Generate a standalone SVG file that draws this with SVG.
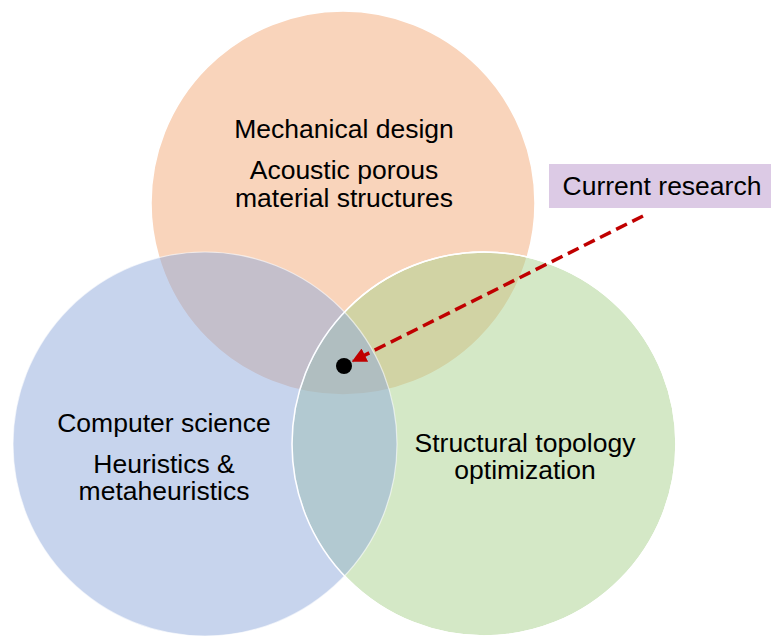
<svg xmlns="http://www.w3.org/2000/svg" width="771" height="637" viewBox="0 0 771 637">
<style>
.c{stroke:#ffffff;stroke-width:1.5}
.edge{fill:none;stroke:#ffffff;stroke-width:1.5}
.t{font-family:"Liberation Sans",Arial,sans-serif;font-size:26.5px;fill:#000;text-anchor:middle}
</style>
<defs>
<marker id="ah" viewBox="0 0 10 10" refX="9" refY="5" markerWidth="4.4" markerHeight="4.2" orient="auto" markerUnits="strokeWidth">
<path d="M0,0 L10,5 L0,10 Z" fill="#C00000"/>
</marker>
</defs>
<rect width="771" height="637" fill="#fff"/>
<g id="mechanical">
<circle class="c" cx="343" cy="203" r="192" fill="#F4B183" fill-opacity="0.55"/>
<text class="t" x="344" y="138">Mechanical design</text>
<text class="t" x="344" y="179">Acoustic porous</text>
<text class="t" x="344" y="207">material structures</text>
</g>
<g id="structural">
<circle class="c" cx="484" cy="444" r="192" fill="#A9D18E" fill-opacity="0.5"/>
</g>
<g id="computer">
<circle cx="205" cy="444" r="192" fill="#8FAADC" fill-opacity="0.5" stroke="#ffffff" stroke-width="1.2" stroke-opacity="0.6"/>
</g>
<g id="structural-edge">
<circle class="edge" cx="484" cy="444" r="192"/>
<text class="t" x="525" y="452">Structural topology</text>
<text class="t" x="525" y="479">optimization</text>
</g>
<g id="computer-label">
<text class="t" x="164" y="432">Computer science</text>
<text class="t" x="164" y="473">Heuristics &amp;</text>
<text class="t" x="164" y="500">metaheuristics</text>
</g>
<g id="current">
<rect x="549" y="164" width="222" height="44" fill="#DCCAE5"/>
<text class="t" x="662" y="195">Current research</text>
</g>
<g id="connectors">
<line x1="643" y1="216" x2="353" y2="361" stroke="#C00000" stroke-width="3.5" stroke-dasharray="12,6" marker-end="url(#ah)"/>
</g>
<g id="point">
<circle cx="344" cy="366" r="8" fill="#000"/>
</g>
</svg>
